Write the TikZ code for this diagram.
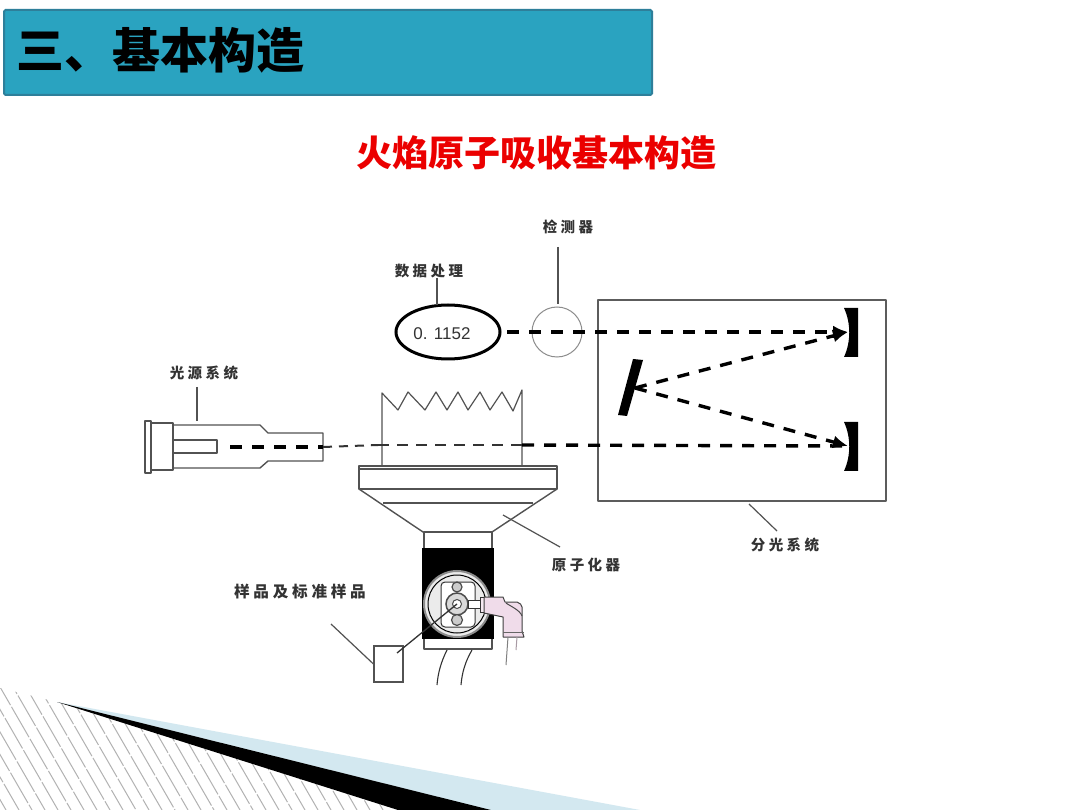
\documentclass[tikz,border=0pt]{standalone}
\usepackage{fontspec}
\usetikzlibrary{arrows.meta,shapes.geometric,calc}
\newfontfamily\cjk{Noto Sans CJK SC}
\newfontfamily\cjklab[LetterSpace=24]{Noto Sans CJK SC}
\newfontfamily\numfont{Liberation Sans}
\definecolor{headfill}{HTML}{2AA3C0}
\definecolor{headedge}{HTML}{2E7F9A}
\definecolor{ink}{HTML}{333333}
\definecolor{paleblue}{HTML}{D3E8F0}
\definecolor{elbow}{HTML}{F0DCEA}
\tikzset{
  lab/.style={font=\cjklab\fontsize{14.5}{14}\selectfont\bfseries,text=ink,inner sep=0pt},
  part/.style={draw=ink!85,line width=1.4pt,line join=round},
  leader/.style={draw=ink!85,line width=1.2pt},
  beam/.style={draw=black,line width=3.4pt,dash pattern=on 12pt off 10pt},
  thinbeam/.style={draw=ink,line width=2pt,dash pattern=on 11pt off 8pt},
  arrowed/.style={-{Latex[length=15pt,width=13pt]}},
}
\begin{document}
\begin{tikzpicture}[x=1pt,y=-1pt]
\useasboundingbox[fill=white] (0,0) rectangle (1080,810);
% decoration
\begin{scope}
\clip (0,688) -- (57,702) -- (398,810) -- (0,810) -- cycle;
\foreach \x [count=\i] in {-108,-95,...,420}{
  \pgfmathsetmacro{\ph}{mod(\i*13,37)}
  \draw[draw=black!30,line width=1pt,dash pattern=on 35pt off 2pt,dash phase=\ph pt] (\x,680) -- ({\x+75},810);
}
\end{scope}
\fill[paleblue] (57,702) -- (640,810) -- (490,810) -- cycle;
\fill[black] (57,702) -- (491,810) -- (398,810) -- cycle;
% header
\draw[fill=headfill,draw=headedge,line width=2pt,rounded corners=1.5pt] (4,10) rectangle (652,95);
\node[anchor=west,inner sep=0pt,font=\cjk\fontsize{48}{48}\selectfont\bfseries,text=black] (head) at (16,50) {三、基本构造};
\node[inner sep=0pt,font=\cjk\fontsize{36}{36}\selectfont\bfseries,text=red!92!black] (title) at (536.5,153) {火焰原子吸收基本构造};
% labels
\node[lab] (lsj) at (429,271) {数据处理};
\node[lab] (ljc) at (568,227) {检测器};
\node[lab] (lgy) at (204,373) {光源系统};
\node[lab] (lfg) at (785,545) {分光系统};
\node[lab] (lyz) at (586,565) {原子化器};
\node[lab,font=\cjklab\fontsize{15.6}{15}\selectfont\bfseries] (lyp) at (300,592) {样品及标准样品};
% display and detector
\node[ellipse,draw=black,line width=3pt,minimum width=104pt,minimum height=54pt,inner sep=0pt] (disp) at (448,332) {};
\node[inner sep=0pt,font=\numfont\fontsize{17}{17}\selectfont,text=ink] (val) at (442,334) {0. 1152};
\node[circle,draw=black!45,line width=1pt,minimum size=50pt,inner sep=0pt] (det) at (557,332) {};
\coordinate (dispTop) at (437,305);
\coordinate (dispLab) at (437,278);
\draw[leader,line width=1.5pt] (dispLab) -- (dispTop);
\coordinate (detLab) at (558,247);
\coordinate (detTop) at (558,304);
\draw[leader] (detLab) -- (detTop);
% monochromator
\draw[part,line width=1.6pt,draw=ink!80] (598,300) rectangle (886,501);
\coordinate (boxB) at (749,504);
\coordinate (fgEnd) at (777,531);
\draw[leader] (boxB) -- (fgEnd);
\fill[black] (844,308) -- (858,308) -- (858,357) -- (844,357) .. controls (851,342) and (851,323) .. (844,308) -- cycle;
\fill[black] (844,422) -- (858,422) -- (858,471) -- (844,471) .. controls (851,456) and (851,437) .. (844,422) -- cycle;
\fill[black] (633,359) -- (643,360) -- (627,416) -- (618,415) -- cycle;
\coordinate (mirA) at (848,332);
\coordinate (mirB) at (848,446);
\coordinate (grat) at (635,388);
\coordinate (dispR) at (507,332);
\draw[beam,arrowed] (dispR) -- (mirA);
\draw[beam,arrowed] (grat) -- (mirA);
\draw[beam,arrowed] (grat) -- (mirB);
% lamp
\draw[part] (145,421) rectangle (151,473);
\draw[part] (151,423) rectangle (173,470);
\draw[part] (173,425) -- (260,425) -- (268,433) -- (323,433) -- (323,461) -- (268,461) -- (260,468) -- (173,468);
\draw[part] (173,440) -- (217,440) -- (217,453) -- (173,453);
\coordinate (lampTop) at (197,421);
\coordinate (lampLab) at (197,387);
\draw[leader,line width=1.4pt] (lampLab) -- (lampTop);
% flame
\draw[part,line width=1.2pt] (382,466) -- (382,393) -- (398,410) -- (408,392) -- (425,410) -- (436,392) -- (447,410) -- (458,392) -- (468,410) -- (480,392) -- (490,410) -- (502,392) -- (513,411) -- (522,390) -- (522,466);
% beam through flame
\coordinate (bs) at (230,447);
\coordinate (be) at (323,447);
\coordinate (fl) at (378,445);
\coordinate (fr) at (522,445);
\draw[beam] (bs) -- (be);
\draw[thinbeam,dash pattern=on 9pt off 7pt] (be) -- (fl);
\draw[thinbeam] (fl) -- (fr);
\draw[beam] (fr) -- (mirB);
% burner
\draw[part,fill=white] (359,466) rectangle (557,489);
\draw[part,line width=1.1pt] (359,469) -- (557,469);
\draw[part] (359,489) -- (423,532) -- (492,532) -- (557,489);
\draw[part] (383,503) -- (533,503);
\coordinate (atomIn) at (503,515);
\coordinate (atomLab) at (560,547);
\draw[leader] (atomIn) -- (atomLab);
% nebuliser
\draw[part,fill=white] (424,532) rectangle (492,649);
\fill[black] (422,548) rectangle (494,639);
\node[circle,fill=black!8,draw=black!45,line width=2pt,minimum size=66pt,inner sep=0pt] (disc) at (457,604) {};
\draw[black,line width=1pt] (457,604) circle[radius=29];
\draw[fill=white,draw=ink,line width=1pt,rounded corners=4pt] (441,582) rectangle (475,627);
\node[circle,draw=black!70,fill=black!15,line width=1.5pt,minimum size=22pt,inner sep=0pt] (hub) at (457,604) {};
\node[circle,draw=black!70,fill=white,line width=1pt,minimum size=9pt,inner sep=0pt] (hubin) at (457,604) {};
\node[circle,draw=black!70,fill=black!20,line width=1.2pt,minimum size=10pt,inner sep=0pt] (sc1) at (457,587) {};
\node[circle,draw=black!70,fill=black!20,line width=1.2pt,minimum size=11pt,inner sep=0pt] (sc2) at (457,620) {};
\draw[draw=ink,fill=white,line width=1pt] (468,600) rectangle (480,608);
\draw[draw=ink,fill=elbow!60,line width=1pt] (480,597) rectangle (484,612);
% elbow
\draw[draw=black!75,fill=elbow,line width=1pt,line join=round] (484,597) -- (503,597) -- (505,602) -- (517,602) .. controls (520,603) and (522,605) .. (522,607) -- (522,631) -- (524,637) -- (503,637) -- (503,617) -- (484,613) -- cycle;
\draw[draw=black!70,line width=1pt] (506,603) .. controls (510,606) and (520,610) .. (522,616);
\draw[draw=black!60,line width=1pt] (503,632) -- (524,632);
\draw[draw=black!50,line width=1pt] (508,637) -- (506,665);
\draw[draw=elbow!70!black,line width=1pt] (517,637) -- (516,650);
% sample
\node[draw=ink!85,line width=1.1pt,fill=white,minimum width=29pt,minimum height=36pt,inner sep=0pt] (samp) at (388.5,664) {};
\coordinate (sampLab) at (331,624);
\draw[leader] (sampLab) -- (samp.west);
\coordinate (tubeEnd) at (397,653);
\draw[draw=ink,line width=1.3pt] (hub.center) -- (tubeEnd);
% drain tubes
\coordinate (w1a) at (447,650);
\coordinate (w1b) at (437,685);
\coordinate (w2a) at (472,650);
\coordinate (w2b) at (461,685);
\draw[draw=ink,line width=1.1pt] (w1a) .. controls (441,662) and (438,673) .. (w1b);
\draw[draw=ink,line width=1.1pt] (w2a) .. controls (465,662) and (462,673) .. (w2b);
\end{tikzpicture}
\end{document}
